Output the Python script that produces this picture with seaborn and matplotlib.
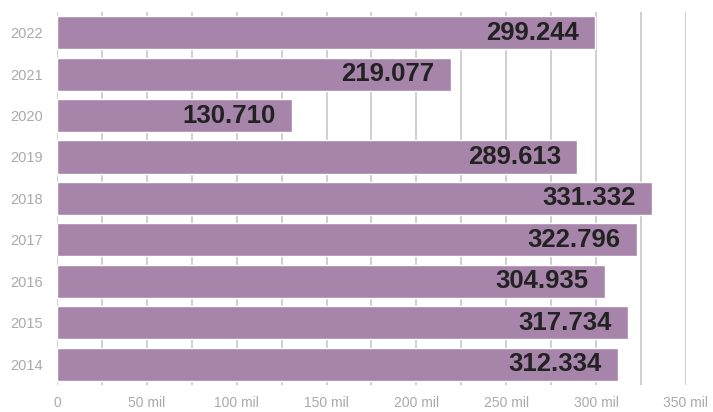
import numpy as np
import pandas as pd
import seaborn as sns
import matplotlib.pyplot as plt
from matplotlib.ticker import MultipleLocator, FuncFormatter

years = ['2022', '2021', '2020', '2019', '2018', '2017', '2016', '2015', '2014']
values = [299.244, 219.077, 130.710, 289.613, 331.332, 322.796, 304.935, 317.734, 312.334]
labels = ['299.244', '219.077', '130.710', '289.613', '331.332', '322.796', '304.935', '317.734', '312.334']

data = pd.DataFrame({'Ano': years, 'Valor': values})

sns.set_style('white')
plt.rcParams['font.family'] = ['Liberation Sans', 'DejaVu Sans']

fig = plt.figure(figsize=(7.13, 4.12), dpi=100)
ax = fig.add_axes([0.080, 0.066, 0.882, 0.905])

sns.barplot(data=data, x='Valor', y='Ano', orient='h', color='#a785ab',
            saturation=1, width=0.8, ax=ax, zorder=2)

ax.set_xlim(0, 350)
ax.xaxis.set_major_locator(MultipleLocator(50))
ax.xaxis.set_minor_locator(MultipleLocator(25))
ax.xaxis.set_major_formatter(FuncFormatter(lambda v, p: '0' if v == 0 else f'{int(v)} mil'))
ax.grid(axis='x', which='both', color='#cccccc', linewidth=1.3, zorder=0)
ax.set_axisbelow(True)

# rótulos dentro da ponta das barras
for bar, txt in zip(ax.patches, labels):
    ax.text(bar.get_width() - 9, bar.get_y() + bar.get_height() / 2, txt,
            ha='right', va='center', fontsize=18.5, fontweight='bold', color='#222222', zorder=3)

for s in ax.spines.values():
    s.set_visible(False)
ax.tick_params(axis='both', which='both', length=0, colors='#aaaaaa')
ax.tick_params(axis='x', pad=8, labelsize=10)
ax.tick_params(axis='y', pad=10, labelsize=10.5)
ax.set_xlabel('')
ax.set_ylabel('')

fig.savefig('out.png', dpi=100)
